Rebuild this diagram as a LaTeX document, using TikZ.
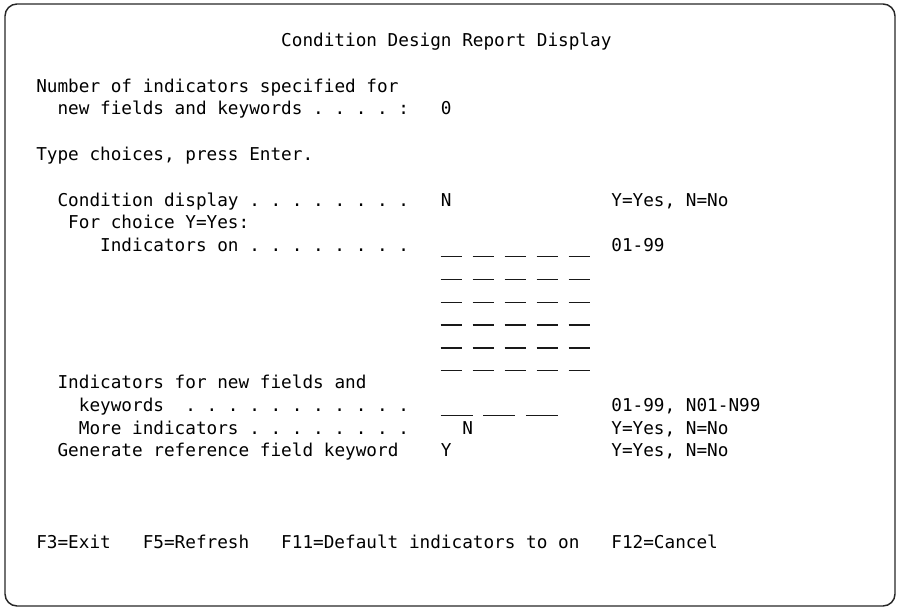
\documentclass[tikz,border=0pt]{standalone}
\usepackage{fontspec}
\usepackage{tikz}
\newfontfamily\scrfont{DejaVu Sans Mono}
\tikzset{
        scrtext/.style = {anchor=base west, inner sep=0pt, text=black,
            font=\scrfont\fontsize{13.27}{16}\selectfont\frenchspacing},
        scrfield/.style = {draw=black!90, line width=1pt},
        scrframe/.style = {draw=black!85, line width=1.1pt, rounded corners=9pt}
    }

\begin{document}
\begin{tikzpicture}[x=0.75pt, y=-0.75pt]
    \useasboundingbox (0,0) rectangle (897,609);
    \draw[scrframe] (5,4) rectangle (895,606); % screen border
    % one unit = one character cell of the screen
    \begin{scope}[shift={(36,46.5)}, x=7.9875pt, y=-17.1pt]
        \node[scrtext] (title) at (23,0) {Condition Design Report Display};
        \node[scrtext] (numind) at (0,2) {Number of indicators specified for};
        \node[scrtext] (numind2) at (2,3) {new fields and keywords . . . . :};
        \node[scrtext] (numval) at (38,3) {0};
        \node[scrtext] (typech) at (0,5) {Type choices, press Enter.};
        % condition display
        \node[scrtext] (conddisp) at (2,7) {Condition display . . . . . . . .};
        \node[scrtext] (condval) at (38,7) {N};
        \node[scrtext] (condhelp) at (54,7) {Y=Yes, N=No};
        \node[scrtext] (forch) at (3,8) {For choice Y=Yes:};
        \node[scrtext] (indon) at (6,9) {Indicators on . . . . . . . .};
        \foreach \r in {9,...,14}
            \foreach \p in {0,...,4}
                \draw[scrfield] (38+3*\p,\r+0.22) -- ++(2,0);
        \node[scrtext] (indhelp) at (54,9) {01-99};
        % new fields and keywords
        \node[scrtext] (newind) at (2,15) {Indicators for new fields and};
        \node[scrtext] (keyw) at (4,16) {keywords~ . . . . . . . . . . .};
        \foreach \p in {0,1,2}
            \draw[scrfield] (38+4*\p,16+0.18) -- ++(3,0);
        \node[scrtext] (keyhelp) at (54,16) {01-99, N01-N99};
        \node[scrtext] (moreind) at (4,17) {More indicators . . . . . . . .};
        \node[scrtext] (moreval) at (40,17) {N};
        \node[scrtext] (morehelp) at (54,17) {Y=Yes, N=No};
        \node[scrtext] (genref) at (2,18) {Generate reference field keyword};
        \node[scrtext] (genval) at (38,18) {Y};
        \node[scrtext] (genhelp) at (54,18) {Y=Yes, N=No};
        % function keys
        \node[scrtext] (fkthree) at (0,22) {F3=Exit};
        \node[scrtext] (fkfive) at (10,22) {F5=Refresh};
        \node[scrtext] (fkeleven) at (23,22) {F11=Default indicators to on};
        \node[scrtext] (fktwelve) at (54,22) {F12=Cancel};
    \end{scope}
\end{tikzpicture}
\end{document}
